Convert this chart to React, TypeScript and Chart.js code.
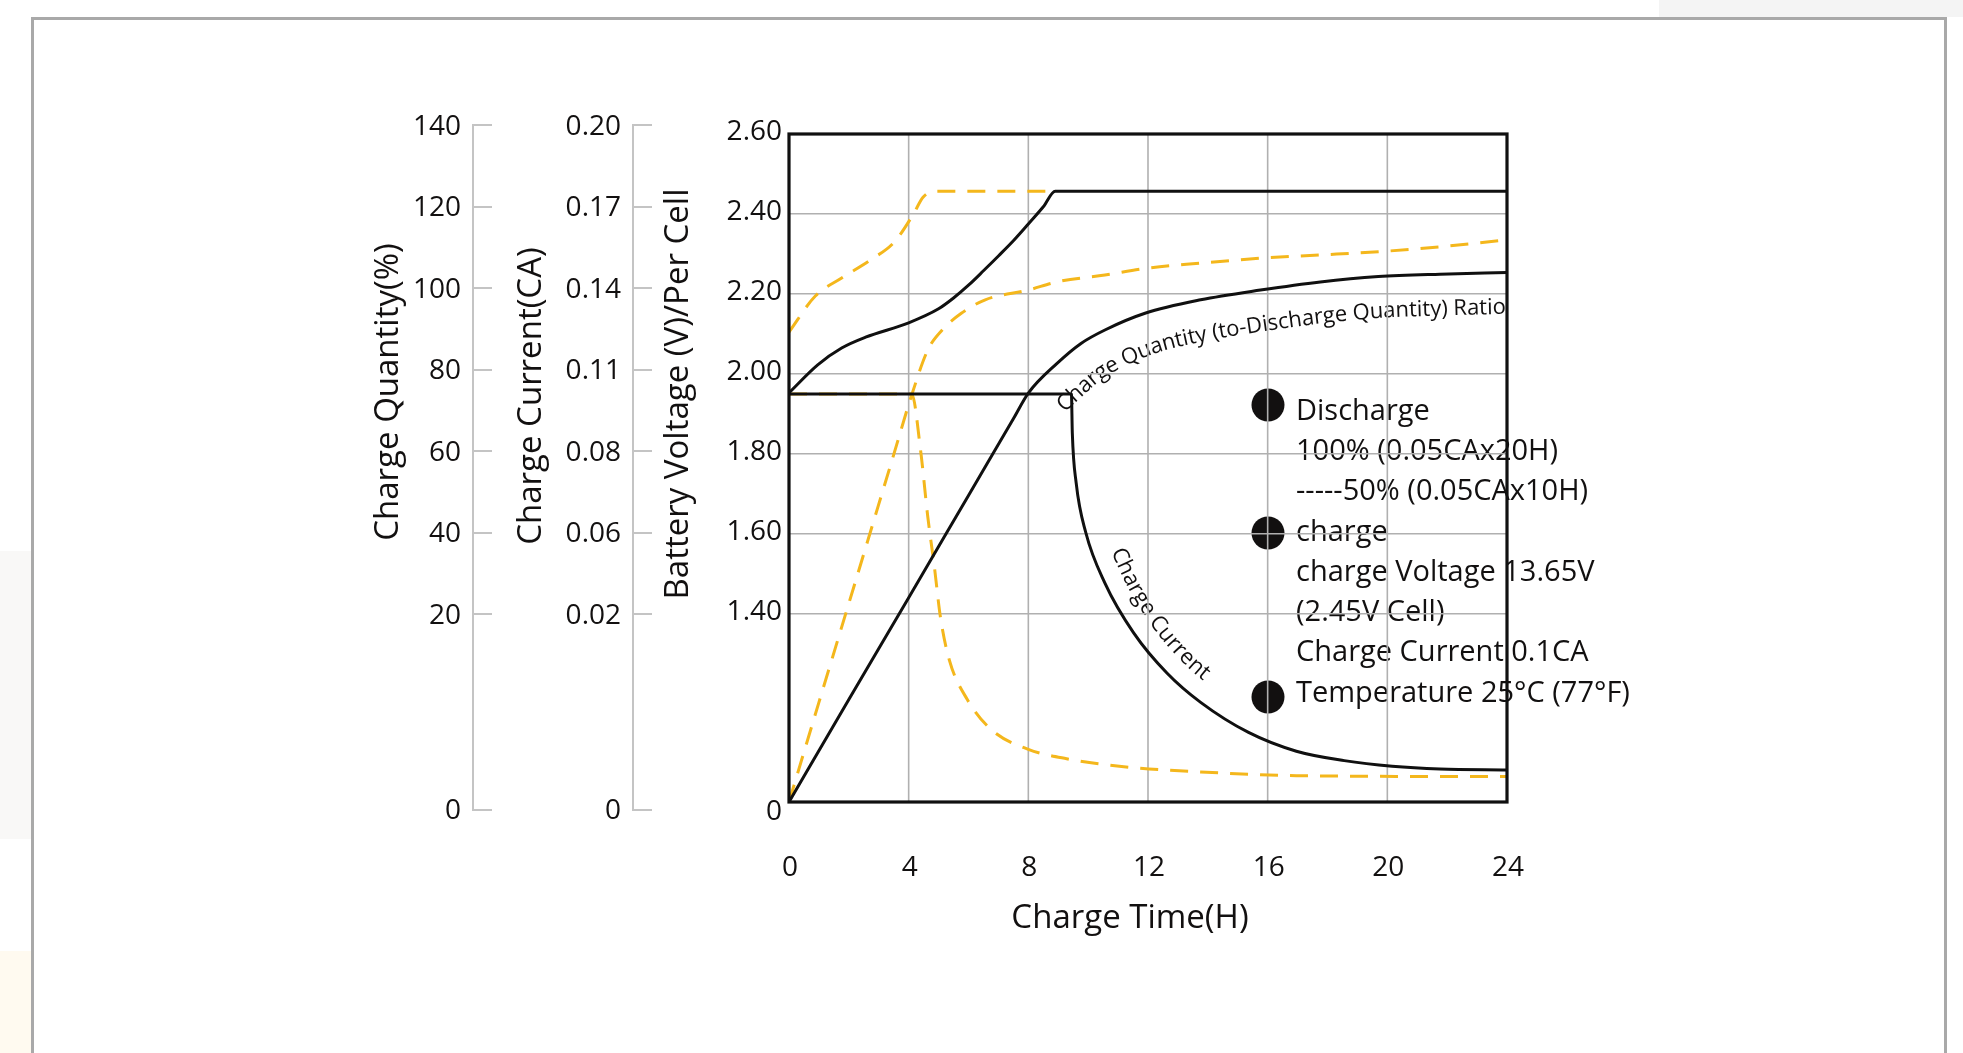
import React, { useEffect, useRef } from 'react';
import { Chart, registerables, LinearScale } from 'chart.js';

Chart.register(...registerables);

// ---------------- data ----------------
const timeTicks = [0, 4, 8, 12, 16, 20, 24];

const voltageTicks = [0, 1.4, 1.6, 1.8, 2.0, 2.2, 2.4, 2.6];
const quantityTicks = [0, 20, 40, 60, 80, 100, 120, 140];
const currentTicks = [0, 0.02, 0.06, 0.08, 0.11, 0.14, 0.17, 0.2];

// Battery voltage, 100% discharged (solid)
const voltage100Hours = [0, 0.96, 1.76, 2.56, 4.0, 5.0, 5.5, 6.0, 6.5, 7.0, 7.5, 8.0, 8.5, 8.9, 24];
const voltage100 = [1.953, 2.023, 2.065, 2.092, 2.128, 2.163, 2.19, 2.222, 2.258, 2.295, 2.333, 2.375, 2.418, 2.457, 2.457];

// Battery voltage, 50% discharged (dashed)
const voltage50Hours = [0, 0.88, 1.76, 2.72, 3.52, 4.16, 4.48, 4.88, 8.9];
const voltage50 = [2.105, 2.195, 2.24, 2.285, 2.33, 2.4, 2.442, 2.457, 2.457];

// Charge quantity ratio, 100% discharged (solid)
const quantity100Hours = [0, 2, 4, 6, 7.5, 8, 8.96, 9.76, 10.56, 11.9, 13.76, 15.76, 17.76, 19.7, 21.76, 24];
const quantity100 = [0, 10.9, 24.0, 49.1, 67.9, 74.2, 81.5, 86.4, 89.7, 93.8, 97.1, 99.5, 101.5, 102.8, 103.4, 103.8];

// Charge quantity ratio, 50% discharged (dashed)
const quantity50Hours = [0, 1, 2, 3.5, 4.1, 4.64, 5.12, 5.76, 6.56, 8, 8.96, 10.56, 11.9, 13.76, 15.76, 17.76, 19.7, 21.76, 24];
const quantity50 = [0, 10.6, 22.6, 59.1, 73.7, 84.8, 89.7, 93.8, 97.1, 99.5, 101.5, 103.2, 104.8, 106.1, 107.3, 108.1, 108.9, 110.1, 111.8];

// Charge current, 100% discharged (solid)
const current100Hours = [0, 9.44, 9.47, 9.6, 9.92, 10.56, 11.52, 12.64, 13.76, 15.36, 16.96, 18.56, 20.16, 21.76, 24];
const current100 = [0.101, 0.101, 0.0866, 0.0721, 0.06, 0.0352, 0.018, 0.0137, 0.0106, 0.0074, 0.0054, 0.0044, 0.0038, 0.0035, 0.0034];

// Charge current, 50% discharged (dashed)
const current50Hours = [0, 4.1, 4.4, 4.64, 4.86, 5.06, 5.36, 5.96, 6.76, 8, 9.28, 11.36, 13.76, 16.96, 24];
const current50 = [0.101, 0.101, 0.0801, 0.0638, 0.0431, 0.0197, 0.0151, 0.0109, 0.0077, 0.0056, 0.0046, 0.0037, 0.0032, 0.0028, 0.0027];

const legendLines = [
  'Discharge',
  '100% (0.05CAx20H)',
  '-----50% (0.05CAx10H)',
  'charge',
  'charge Voltage 13.65V',
  '(2.45V Cell)',
  'Charge Current 0.1CA',
  'Temperature 25\u00B0C (77\u00B0F)',
];

const quantityCurveLabel = 'Charge Quantity (to-Discharge Quantity) Ratio';
const currentCurveLabel = 'Charge Current';

const axisTitleQuantity = 'Charge Quantity(%)';
const axisTitleCurrent = 'Charge Current(CA)';
const axisTitleVoltage = 'Battery Voltage (V)/Per Cell';
const axisTitleTime = 'Charge Time(H)';

// ---------------- layout / style ----------------
const FONT = '"Open Sans", "DejaVu Sans", sans-serif';
const INK = '#121010';
const BLACK_LINE = '#101010';
const YELLOW = '#f4b71c';
const GRID = '#b0b0b0';
const AXIS_GRAY = '#c4c4c4';
const TRANSPARENT = 'rgba(0,0,0,0)';

const CANVAS_W = 1963;
const CANVAS_H = 1053;
const AXIS_SPAN = 677; // internal units of the broken y axes (1 unit = 1 px)
const voltageTickPos = [0, 188, 268, 348, 428, 508, 588, 668];
const sideTickPos = [0, 188, 269.5, 351, 432.5, 514, 595.5, 677];

const STOPS: Record<string, { values: number[]; pos: number[] }> = {
  yV: { values: voltageTicks, pos: voltageTickPos },
  yQ: { values: quantityTicks, pos: sideTickPos },
  yC: { values: currentTicks, pos: sideTickPos },
};

// A linear scale with a broken (piecewise-linear) value -> position mapping
class PiecewiseScale extends LinearScale {
  static id = 'piecewise';
  static defaults = {};
  toPos(v: number) {
    const s = STOPS[(this as any).id];
    const vals = s.values;
    const pos = s.pos;
    let i = 0;
    while (i < vals.length - 2 && v > vals[i + 1]) i++;
    return pos[i] + ((v - vals[i]) / (vals[i + 1] - vals[i])) * (pos[i + 1] - pos[i]);
  }
  fromPos(p: number) {
    const s = STOPS[(this as any).id];
    const vals = s.values;
    const pos = s.pos;
    let i = 0;
    while (i < pos.length - 2 && p > pos[i + 1]) i++;
    return vals[i] + ((p - pos[i]) / (pos[i + 1] - pos[i])) * (vals[i + 1] - vals[i]);
  }
  determineDataLimits() {
    (this as any).min = 0;
    (this as any).max = AXIS_SPAN;
  }
  buildTicks() {
    return STOPS[(this as any).id].values.map((value) => ({ value }));
  }
  getPixelForValue(value: any) {
    if (value === null || value === undefined || Number.isNaN(value)) return NaN;
    return super.getPixelForValue(this.toPos(value));
  }
  getValueForPixel(pixel: number) {
    return this.fromPos(super.getValueForPixel(pixel));
  }
}
Chart.register(PiecewiseScale as any);

const toPoints = (hours: number[], vals: number[]) => hours.map((h, i) => ({ x: h, y: vals[i] }));

// ---------- drawing helpers ----------
function sampleCurve(meta: any) {
  const pts = meta.data as any[];
  const out: { x: number; y: number }[] = [];
  for (let i = 0; i < pts.length; i++) {
    const p = pts[i];
    if (i === 0) {
      out.push({ x: p.x, y: p.y });
      continue;
    }
    const a = pts[i - 1];
    const c1x = a.cp2x ?? a.x, c1y = a.cp2y ?? a.y;
    const c2x = p.cp1x ?? p.x, c2y = p.cp1y ?? p.y;
    const n = 24;
    for (let k = 1; k <= n; k++) {
      const t = k / n, mt = 1 - t;
      out.push({
        x: mt * mt * mt * a.x + 3 * mt * mt * t * c1x + 3 * mt * t * t * c2x + t * t * t * p.x,
        y: mt * mt * mt * a.y + 3 * mt * mt * t * c1y + 3 * mt * t * t * c2y + t * t * t * p.y,
      });
    }
  }
  return out;
}

function offsetCurve(pts: { x: number; y: number }[], d: number, side: number) {
  return pts.map((p, i) => {
    const a = pts[Math.max(0, i - 2)];
    const b = pts[Math.min(pts.length - 1, i + 2)];
    let tx = b.x - a.x, ty = b.y - a.y;
    const L = Math.hypot(tx, ty) || 1;
    tx /= L; ty /= L;
    return { x: p.x + side * -ty * d, y: p.y + side * tx * d, ox: p.x };
  });
}

function drawTextOnPath(ctx: CanvasRenderingContext2D, text: string, path: any[], start: number | null, endAlign: boolean) {
  const cum = [0];
  for (let i = 1; i < path.length; i++) cum.push(cum[i - 1] + Math.hypot(path[i].x - path[i - 1].x, path[i].y - path[i - 1].y));
  const total = cum[cum.length - 1];
  const at = (s: number) => {
    s = Math.max(0, Math.min(total, s));
    let i = 1;
    while (i < cum.length - 1 && cum[i] < s) i++;
    const seg = cum[i] - cum[i - 1] || 1;
    const t = (s - cum[i - 1]) / seg;
    return { x: path[i - 1].x + (path[i].x - path[i - 1].x) * t, y: path[i - 1].y + (path[i].y - path[i - 1].y) * t };
  };
  const width = ctx.measureText(text).width;
  let s = endAlign ? total - width - 2 : (start as number);
  for (const ch of text) {
    const w = ctx.measureText(ch).width;
    const mid = s + w / 2;
    const p = at(mid);
    const a = at(mid - 5), b = at(mid + 5);
    const ang = Math.atan2(b.y - a.y, b.x - a.x);
    ctx.save();
    ctx.translate(p.x, p.y);
    ctx.rotate(ang);
    ctx.fillText(ch, 0, 0);
    ctx.restore();
    s += w;
  }
}

function arcAtX(path: any[], xPix: number) {
  let s = 0;
  for (let i = 1; i < path.length; i++) {
    if (path[i].ox >= xPix) return s;
    s += Math.hypot(path[i].x - path[i - 1].x, path[i].y - path[i - 1].y);
  }
  return s;
}

const decorPlugin = {
  id: 'decor',
  beforeDraw(chart: any) {
    const ctx: CanvasRenderingContext2D = chart.ctx;
    ctx.save();
    ctx.fillStyle = INK;
    // axis titles
    ctx.font = `500 33px ${FONT}`;
    ctx.textAlign = 'center';
    ctx.textBaseline = 'middle';
    const titles: [string, number, number, number][] = [
      [axisTitleQuantity, 389, 392, -Math.PI / 2],
      [axisTitleCurrent, 532, 396, -Math.PI / 2],
      [axisTitleVoltage, 679, 394, -Math.PI / 2],
      [axisTitleTime, 1130, 919, 0],
    ];
    for (const [t, x, y, r] of titles) {
      ctx.save();
      ctx.translate(x, y);
      ctx.rotate(r);
      ctx.fillText(t, 0, 0);
      ctx.restore();
    }
    // notes block
    ctx.font = `500 29px ${FONT}`;
    ctx.textAlign = 'left';
    const lineY = [412, 452, 492, 533, 573, 613, 653, 694];
    legendLines.forEach((t, i) => ctx.fillText(t, 1296, lineY[i]));
    const bullets = [405, 533, 697];
    for (const by of bullets) {
      ctx.beginPath();
      ctx.arc(1268, by, 16.5, 0, Math.PI * 2);
      ctx.fill();
    }
    // curve labels
    ctx.font = `500 22px ${FONT}`;
    ctx.textAlign = 'center';
    const qMeta = chart.getDatasetMeta(1);
    const qPath = offsetCurve(sampleCurve(qMeta), 35, 1);
    drawTextOnPath(ctx, quantityCurveLabel, qPath, null, true);
    const cMeta = chart.getDatasetMeta(0);
    const cPath = offsetCurve(sampleCurve(cMeta), 25, -1);
    const startS = arcAtX(cPath, chart.scales.x.getPixelForValue(10.2));
    drawTextOnPath(ctx, currentCurveLabel, cPath, startS, false);
    ctx.restore();
  },
  beforeDatasetsDraw(chart: any) {
    const ctx: CanvasRenderingContext2D = chart.ctx;
    const x = chart.scales.x;
    const yV = chart.scales.yV;
    const top = yV.getPixelForValue(2.6);
    const bottom = yV.getPixelForValue(0);
    ctx.save();
    ctx.strokeStyle = GRID;
    ctx.lineWidth = 1.6;
    for (const h of timeTicks.slice(1, -1)) {
      const px = x.getPixelForValue(h);
      ctx.beginPath();
      ctx.moveTo(px, top);
      ctx.lineTo(px, bottom);
      ctx.stroke();
    }
    // side axis lines (on the left of their tick marks), with the zero tick
    // drawn level with the "0" label as in the original
    ctx.strokeStyle = AXIS_GRAY;
    ctx.lineWidth = 2;
    for (const id of ['yQ', 'yC']) {
      const s = chart.scales[id];
      const lx = s.right - 19;
      const zeroY = s.getPixelForValue(0) + 8;
      ctx.beginPath();
      ctx.moveTo(lx, s.getPixelForValue(STOPS[id].values[STOPS[id].values.length - 1]) - 1);
      ctx.lineTo(lx, zeroY);
      ctx.lineTo(s.right, zeroY);
      ctx.stroke();
    }
    ctx.restore();
  },
  afterDatasetsDraw(chart: any) {
    const ctx: CanvasRenderingContext2D = chart.ctx;
    const x = chart.scales.x;
    const yV = chart.scales.yV;
    const l = x.getPixelForValue(0), r = x.getPixelForValue(24);
    const t = yV.getPixelForValue(2.6), b = yV.getPixelForValue(0);
    ctx.save();
    ctx.strokeStyle = BLACK_LINE;
    ctx.lineWidth = 3.2;
    ctx.strokeRect(l, t, r - l, b - t);
    ctx.restore();
  },
};

const sideTickFont = (zeroLH: number) => (c: any) => ({
  family: FONT,
  size: 28,
  weight: '500',
  lineHeight: c && c.index === 0 ? zeroLH : 1.2,
});

const sideGridColor = (c: any) => (c && c.index === 0 ? TRANSPARENT : AXIS_GRAY);

export default function App() {
  const ref = useRef<HTMLCanvasElement>(null);
  useEffect(() => {
    document.body.style.margin = '0';
    document.body.style.overflow = 'hidden';
    const solid = { borderColor: BLACK_LINE, borderWidth: 3, pointRadius: 0, fill: false, cubicInterpolationMode: 'monotone' as const };
    const dashed = { borderColor: YELLOW, borderWidth: 3, borderDash: [18, 12], pointRadius: 0, fill: false, cubicInterpolationMode: 'monotone' as const };
    const chart = new Chart(ref.current as HTMLCanvasElement, {
      type: 'line',
      data: {
        datasets: [
          { label: 'Charge Current (100%)', data: toPoints(current100Hours, current100), yAxisID: 'yC', ...solid },
          { label: 'Charge Quantity (100%)', data: toPoints(quantity100Hours, quantity100), yAxisID: 'yQ', ...solid },
          { label: 'Battery Voltage (100%)', data: toPoints(voltage100Hours, voltage100), yAxisID: 'yV', ...solid },
          { label: 'Charge Current (50%)', data: toPoints(current50Hours, current50), yAxisID: 'yC', ...dashed },
          { label: 'Charge Quantity (50%)', data: toPoints(quantity50Hours, quantity50), yAxisID: 'yQ', ...dashed },
          { label: 'Battery Voltage (50%)', data: toPoints(voltage50Hours, voltage50), yAxisID: 'yV', ...dashed },
        ] as any,
      },
      options: {
        animation: false,
        responsive: false,
        maintainAspectRatio: false,
        devicePixelRatio: 1,
        events: [],
        layout: { padding: { left: 380, right: 456, top: 125, bottom: 0 } },
        plugins: { legend: { display: false }, tooltip: { enabled: false }, title: { display: false } },
        scales: {
          x: {
            type: 'linear',
            position: 'bottom',
            min: 0,
            max: 24,
            afterBuildTicks: (s: any) => { s.ticks = timeTicks.map((value) => ({ value })); },
            afterFit: (s: any) => { s.height = 251; },
            grid: { display: false },
            border: { display: false },
            ticks: { font: { family: FONT, size: 28, weight: '500' }, color: INK, padding: 41, labelOffset: 1, autoSkip: false, maxRotation: 0 },
          },
          yV: {
            type: 'piecewise',
            position: 'left',
            weight: 1,
            afterFit: (s: any) => { s.width = 137; },
            grid: { drawOnChartArea: true, drawTicks: false, color: GRID, lineWidth: 1.6 },
            border: { display: false },
            ticks: {
              autoSkip: false,
              padding: 7,
              labelOffset: -2,
              color: INK,
              font: sideTickFont(0.857),
              callback: (v: any, i: number) => (i === 0 ? ['', '0'] : Number(v).toFixed(2)),
            },
          },
          yC: {
            type: 'piecewise',
            position: 'left',
            weight: 2,
            afterFit: (s: any) => { s.width = 160; },
            grid: { drawOnChartArea: false, drawTicks: true, tickLength: 19, color: sideGridColor, lineWidth: 2 },
            border: { display: false },
            ticks: {
              autoSkip: false,
              padding: 12,
              labelOffset: 2,
              color: INK,
              font: sideTickFont(0.5),
              callback: (v: any, i: number) => (i === 0 ? ['', '0'] : Number(v).toFixed(2)),
            },
          },
          yQ: {
            type: 'piecewise',
            position: 'left',
            weight: 3,
            afterFit: (s: any) => { s.width = 112; },
            grid: { drawOnChartArea: false, drawTicks: true, tickLength: 19, color: sideGridColor, lineWidth: 2 },
            border: { display: false },
            ticks: {
              autoSkip: false,
              padding: 12,
              labelOffset: 2,
              color: INK,
              font: sideTickFont(0.5),
              callback: (v: any, i: number) => (i === 0 ? ['', '0'] : String(v)),
            },
          },
        } as any,
      },
      plugins: [decorPlugin as any],
    });
    return () => chart.destroy();
  }, []);

  return (
    <div style={{ position: 'absolute', left: 0, top: 0, width: CANVAS_W, height: CANVAS_H, overflow: 'hidden', background: '#ffffff' }}>
      <div style={{ position: 'absolute', left: 0, top: 551, width: 31, height: 288, background: '#f9f8f7' }} />
      <div style={{ position: 'absolute', left: 0, top: 951, width: 31, height: 102, background: '#fffaf0' }} />
      <div style={{ position: 'absolute', left: 1659, top: 0, width: 304, height: 17, background: '#f4f4f4' }} />
      <div style={{ position: 'absolute', left: 31, top: 17, width: 1916, height: 1200, boxSizing: 'border-box', borderTop: '3px solid #a9a9a9', borderLeft: '3px solid #a9a9a9', borderRight: '3px solid #a9a9a9', background: '#ffffff' }} />
      <canvas ref={ref} width={CANVAS_W} height={CANVAS_H} style={{ position: 'absolute', left: 0, top: 0, width: CANVAS_W, height: CANVAS_H }} />
    </div>
  );
}
